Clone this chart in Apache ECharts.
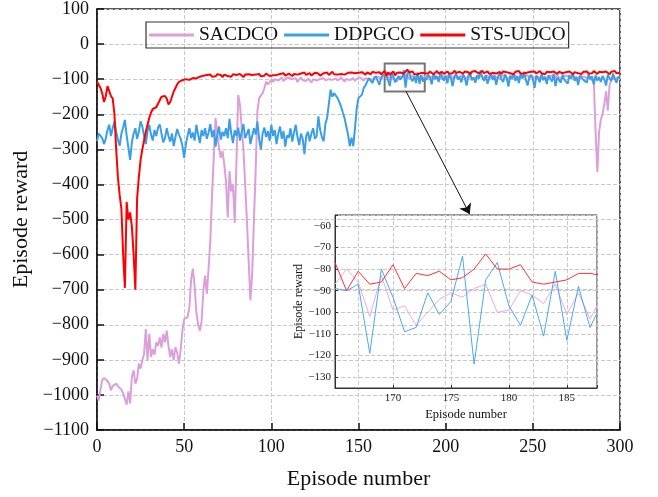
<!DOCTYPE html>
<html>
<head>
<meta charset="utf-8">
<script src="https://cdn.jsdelivr.net/npm/echarts@6/dist/echarts.min.js"></script>
<style>
  html, body { margin: 0; padding: 0; background: #fff; }
  #chart { width: 658px; height: 497px; }
</style>
</head>
<body>
<div id="chart"></div>
<script>
// Training curves: episode reward per episode for three offloading agents.
const EPISODES = Array.from({ length: 301 }, (_, i) => i);

const SACDCO = [
  -1002,-1016,-985,-958,-952,-949,-960,-968,-987,-975,
  -970,-968,-975,-980,-985,-995,-1000,-1028,-990,-1024,
  -949,-930,-968,-955,-911,-925,-901,-883,-812,-901,
  -826,-892,-870,-885,-850,-860,-836,-865,-826,-850,
  -817,-860,-892,-870,-901,-864,-880,-911,-870,-817,
  -784,-780,-778,-750,-670,-640,-690,-765,-800,-817,
  -789,-703,-660,-712,-640,-560,-430,-320,-211,-206,
  -296,-324,-305,-343,-391,-494,-362,-420,-400,-509,
  -334,-145,-173,-239,-300,-400,-504,-618,-731,-655,
  -504,-362,-192,-154,-159,-140,-126,-107,-115,-112,
  -102,-108,-100,-97,-104,-99,-95,-106,-98,-102,
  -96,-93,-100,-104,-97,-108,-101,-95,-103,-99,
  -105,-98,-102,-110,-100,-96,-104,-107,-99,-101,
  -97,-103,-108,-100,-95,-102,-106,-98,-104,-100,
  -96,-101,-107,-99,-94,-103,-100,-97,-105,-98,
  -101,-95,-99,-104,-97,-93,-100,-96,-102,-94,
  -98,-92,-96,-100,-93,-87,-80,-86,-102,-83,
  -99,-97,-106,-100,-94,-91,-93,-89,-87,-100,
  -99,-90,-92,-96,-87,-101,-91,-103,-93,-95,
  -89,-98,-92,-101,-88,-96,-93,-99,-90,-94,
  -97,-91,-95,-88,-100,-93,-90,-98,-92,-96,
  -89,-94,-99,-91,-87,-96,-93,-100,-90,-95,
  -92,-88,-97,-94,-90,-99,-91,-95,-89,-96,
  -93,-98,-90,-94,-88,-97,-92,-99,-91,-95,
  -89,-96,-93,-90,-98,-92,-95,-88,-97,-91,
  -94,-99,-90,-93,-96,-89,-95,-92,-98,-91,
  -95,-90,-97,-93,-88,-96,-92,-99,-90,-94,
  -91,-97,-93,-89,-96,-92,-98,-90,-95,-93,
  -90,-96,-92,-98,-93,-110,-250,-365,-250,-215,
  -200,-170,-135,-190,-118,-100,-95,-98,-93,-96,
  -92
];

const DDPGCO = [
  -277,-255,-250,-268,-285,-270,-245,-230,-262,-240,
  -221,-250,-272,-290,-255,-238,-216,-260,-295,-330,
  -280,-255,-240,-270,-250,-220,-235,-262,-285,-248,
  -230,-258,-275,-245,-262,-238,-229,-255,-280,-268,
  -240,-262,-278,-255,-291,-265,-242,-258,-270,-290,
  -324,-285,-260,-240,-268,-252,-275,-230,-258,-282,
  -245,-262,-240,-270,-252,-228,-265,-245,-292,-258,
  -235,-272,-250,-262,-240,-268,-213,-255,-282,-246,
  -262,-238,-275,-250,-228,-268,-256,-242,-285,-262,
  -240,-258,-221,-270,-300,-255,-238,-265,-248,-276,
  -230,-262,-245,-285,-255,-235,-270,-248,-292,-260,
  -267,-240,-278,-252,-230,-265,-288,-255,-270,-314,
  -262,-250,-277,-255,-240,-270,-262,-206,-245,-265,
  -277,-228,-210,-170,-130,-150,-140,-144,-154,-165,
  -178,-195,-211,-235,-258,-291,-267,-291,-239,-182,
  -154,-150,-144,-125,-118,-107,-97,-104,-111,-98,
  -92,-105,-116,-95,-88,-89,-90,-87,-119,-80,
  -93,-109,-107,-91,-101,-95,-74,-124,-85,-77,
  -97,-106,-92,-111,-81,-113,-88,-107,-96,-102,
  -88,-95,-115,-84,-99,-92,-108,-78,-96,-104,
  -90,-112,-86,-98,-120,-93,-83,-101,-94,-109,
  -87,-97,-118,-92,-80,-103,-95,-110,-89,-99,
  -76,-94,-105,-88,-113,-97,-85,-102,-91,-116,
  -93,-82,-100,-108,-87,-96,-121,-90,-99,-84,
  -105,-92,-111,-86,-98,-79,-102,-118,-94,-88,
  -100,-125,-91,-97,-109,-85,-103,-93,-114,-89,
  -98,-107,-84,-120,-95,-90,-110,-87,-101,-96,
  -113,-88,-99,-83,-105,-93,-117,-91,-86,-102,
  -97,-110,-85,-100,-92,-115,-89,-104,-94,-108,
  -91,-100,-118,-87,-97,-105,-84,-99,-110,-93,
  -96
];

const STS_UDCO = [
  -107,-112,-125,-140,-165,-150,-120,-125,-148,-155,
  -200,-300,-380,-430,-470,-600,-695,-450,-500,-480,
  -520,-600,-700,-440,-380,-330,-300,-275,-250,-230,
  -210,-195,-185,-190,-180,-170,-160,-150,-155,-148,
  -155,-172,-165,-150,-135,-125,-115,-108,-104,-103,
  -105,-100,-98,-102,-99,-97,-95,-98,-94,-93,
  -92,-90,-94,-88,-91,-87,-93,-89,-92,-86,
  -90,-88,-94,-87,-85,-91,-89,-93,-86,-90,
  -88,-92,-85,-89,-94,-87,-90,-86,-91,-88,
  -93,-87,-89,-85,-92,-88,-90,-84,-89,-91,
  -86,-89,-84,-88,-92,-85,-87,-83,-90,-86,
  -84,-88,-91,-85,-82,-87,-89,-84,-86,-81,
  -88,-85,-83,-89,-86,-82,-87,-84,-90,-85,
  -83,-86,-81,-88,-84,-79,-86,-83,-87,-82,
  -85,-80,-87,-84,-82,-86,-81,-85,-83,-88,
  -82,-85,-80,-84,-87,-81,-83,-86,-79,-84,
  -82,-85,-80,-86,-83,-77,-90,-81,-87,-86,
  -78,-89,-82,-83,-81,-85,-84,-80,-73,-80,
  -80,-78,-86,-87,-86,-85,-82,-82,-83,-80,
  -84,-78,-83,-86,-81,-77,-84,-82,-79,-85,
  -81,-78,-84,-80,-83,-76,-82,-85,-79,-81,
  -84,-78,-82,-80,-86,-79,-83,-77,-81,-84,
  -80,-76,-83,-81,-78,-85,-80,-82,-77,-84,
  -81,-79,-85,-78,-82,-80,-76,-83,-81,-86,
  -79,-82,-77,-84,-80,-83,-78,-81,-85,-79,
  -82,-78,-84,-80,-77,-83,-81,-86,-79,-82,
  -80,-84,-78,-81,-85,-79,-76,-83,-81,-80,
  -84,-78,-82,-86,-80,-77,-83,-81,-85,-79,
  -82,-78,-84,-80,-83,-77,-81,-85,-79,-82,
  -80,-84,-78,-82,-86,-79,-81,-77,-83,-80,
  -82
];

const SERIES_NAMES = ['SACDCO', 'DDPGCO', 'STS-UDCO'];

// Axis ticks of the main plot and of the magnified inset
const MAIN_X_TICKS = [0, 50, 100, 150, 200, 250, 300];
const MAIN_Y_TICKS = [-1100, -1000, -900, -800, -700, -600, -500, -400, -300, -200, -100, 0, 100];
const INSET_X_TICKS = [170, 175, 180, 185];
const INSET_Y_TICKS = [-130, -120, -110, -100, -90, -80, -70, -60];

// Magnified window (episodes, reward) and the arrow pointing to the inset
const ZOOM_X = [165, 187.6];
const ZOOM_Y = [-135, -55];
const ZOOM_BOX = [[165, -55], [188, -135]];
const ARROW = [[177.3, -135], [213.8, -485]];

const MAIN_COLORS = ['#dc9fda', '#3a9fe6', '#ff0000'];
const INSET_COLORS = ['#e8a9e2', '#4aa9ef', '#ff3030'];

const SERIF = 'Liberation Serif';
const minus = v => (v < 0 ? '\u2212' + Math.abs(v) : String(v));

const valueSets = [SACDCO, DDPGCO, STS_UDCO];
const firstInset = EPISODES.indexOf(ZOOM_BOX[0][0]);
const lastInset = EPISODES.indexOf(ZOOM_BOX[1][0]);

const mainSeries = valueSets.map((vals, k) => ({
  type: 'line',
  name: SERIES_NAMES[k],
  xAxisIndex: 0, yAxisIndex: 0,
  data: EPISODES.map((e, i) => [e, vals[i]]),
  symbol: 'none',
  color: MAIN_COLORS[k],
  lineStyle: { width: 2, color: MAIN_COLORS[k] },
  z: 3 + k
}));

const insetSeries = valueSets.map((vals, k) => ({
  type: 'line',
  name: SERIES_NAMES[k],
  xAxisIndex: 1, yAxisIndex: 1,
  data: EPISODES.slice(firstInset, lastInset + 1).map((e, j) => [e, vals[firstInset + j]]),
  symbol: 'none',
  color: INSET_COLORS[k],
  lineStyle: { width: 1, color: INSET_COLORS[k] },
  z: 10 + k
}));

// Zoom box and arrow ride on the top series of the main plot
mainSeries[2].markArea = {
  silent: true,
  itemStyle: { color: 'rgba(0,0,0,0)', borderColor: '#777', borderWidth: 2 },
  data: [[{ coord: ZOOM_BOX[0] }, { coord: ZOOM_BOX[1] }]]
};
mainSeries[2].markLine = {
  silent: true,
  symbol: ['none', 'arrow'],
  symbolSize: 10,
  label: { show: false },
  lineStyle: { color: '#111', width: 1, type: 'solid' },
  data: [[{ coord: ARROW[0] }, { coord: ARROW[1] }]]
};

const dashed = { show: true, lineStyle: { color: '#c8c8c8', type: 'dashed', width: 1 } };

const option = {
  animation: false,
  backgroundColor: '#fff',
  legend: {
    data: SERIES_NAMES.map(n => ({ name: n, icon: 'rect' })),
    left: 146, top: 22,
    padding: [3, 3, 3, 3],
    itemWidth: 45, itemHeight: 3, itemGap: 6,
    borderColor: '#333', borderWidth: 1.2,
    textStyle: { fontFamily: SERIF, fontSize: 19.5, color: '#111' }
  },
  grid: [
    { left: 97, right: 38, top: 7, bottom: 67, show: true, borderColor: '#222', borderWidth: 1.5, backgroundColor: 'rgba(0,0,0,0)' },
    { left: 335, top: 215, width: 262, height: 173, show: true, borderColor: '#333', borderWidth: 1, backgroundColor: 'rgba(255,255,255,0)' }
  ],
  xAxis: [
    {
      gridIndex: 0, type: 'value',
      min: MAIN_X_TICKS[0], max: MAIN_X_TICKS[MAIN_X_TICKS.length - 1],
      interval: MAIN_X_TICKS[1] - MAIN_X_TICKS[0],
      name: 'Episode number', nameLocation: 'middle', nameGap: 38,
      nameTextStyle: { fontFamily: SERIF, fontSize: 22, color: '#111' },
      axisLine: { onZero: false, lineStyle: { color: '#111', width: 1.5 } },
      axisTick: { inside: true, length: 7, lineStyle: { color: '#111', width: 1.5 } },
      axisLabel: { fontFamily: SERIF, fontSize: 18, color: '#111', margin: 8 },
      splitLine: dashed
    },
    {
      gridIndex: 1, type: 'value',
      min: ZOOM_X[0], max: ZOOM_X[1], interval: 5,
      name: 'Episode number', nameLocation: 'middle', nameGap: 20,
      nameTextStyle: { fontFamily: SERIF, fontSize: 12.5, color: '#111' },
      axisLine: { onZero: false, lineStyle: { color: '#333', width: 1 } },
      axisTick: { inside: true, length: 3, lineStyle: { color: '#333' } },
      axisLabel: { fontFamily: SERIF, fontSize: 11, color: '#222', margin: 5,
        formatter: v => (INSET_X_TICKS.includes(v) ? String(v) : '') },
      splitLine: dashed
    }
  ],
  yAxis: [
    {
      gridIndex: 0, type: 'value',
      min: MAIN_Y_TICKS[0], max: MAIN_Y_TICKS[MAIN_Y_TICKS.length - 1],
      interval: MAIN_Y_TICKS[1] - MAIN_Y_TICKS[0],
      name: 'Episode reward', nameLocation: 'middle', nameGap: 56,
      nameTextStyle: { fontFamily: SERIF, fontSize: 22, color: '#111' },
      axisLine: { onZero: false, lineStyle: { color: '#111', width: 1.5 } },
      axisTick: { inside: true, length: 7, lineStyle: { color: '#111', width: 1.5 } },
      axisLabel: { fontFamily: SERIF, fontSize: 18, color: '#111', margin: 8, formatter: minus },
      splitLine: dashed
    },
    {
      gridIndex: 1, type: 'value',
      min: ZOOM_Y[0], max: ZOOM_Y[1], splitNumber: 8,
      name: 'Episode reward', nameLocation: 'middle', nameGap: 27,
      nameTextStyle: { fontFamily: SERIF, fontSize: 12, color: '#111' },
      axisLine: { onZero: false, lineStyle: { color: '#333', width: 1 } },
      axisTick: { inside: true, length: 3, lineStyle: { color: '#333' } },
      axisLabel: { fontFamily: SERIF, fontSize: 11, color: '#222', margin: 4,
        formatter: v => (INSET_Y_TICKS.includes(v) ? minus(v) : '') },
      splitLine: dashed
    }
  ],
  series: mainSeries.concat(insetSeries)
};

const chart = echarts.init(document.getElementById('chart'), null, { renderer: 'canvas' });
chart.setOption(option);
</script>
</body>
</html>
